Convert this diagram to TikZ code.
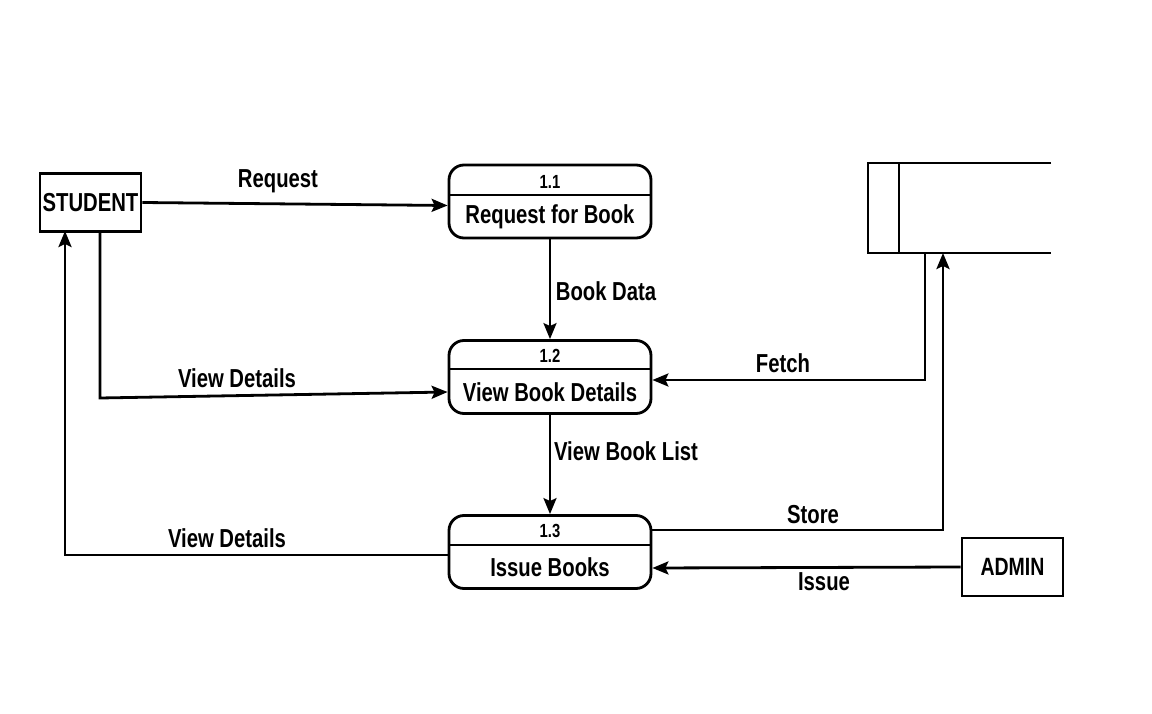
\documentclass[tikz,border=0pt]{standalone}
\usepackage{fontspec}
\setmainfont{Liberation Sans}[FakeStretch=0.78]
\usetikzlibrary{arrows.meta,calc}
\begin{document}
\begin{tikzpicture}[x=1pt,y=-1pt,
  ent/.style={draw,line width=2.8pt,minimum width=101pt,minimum height=58pt,inner sep=0pt},
  proc/.style={draw,line width=2.8pt,rounded corners=15pt,minimum width=202pt,minimum height=73pt,inner sep=0pt},
  num/.style={font=\fontsize{19}{19}\selectfont\bfseries,inner sep=0pt},
  pname/.style={font=\fontsize{26}{26}\selectfont\bfseries,inner sep=0pt},
  lbl/.style={font=\fontsize{26}{26}\selectfont\bfseries,inner sep=0pt},
  flow/.style={line width=2.8pt,-{Stealth[length=16pt,width=13pt,inset=3pt]}},
  plain/.style={line width=2.8pt}
]
\useasboundingbox (0,0) rectangle (1152,714);
% entities
\node[ent,font=\fontsize{26}{26}\selectfont\bfseries] (stu) at (90.5,202.5) {STUDENT};
\node[ent,font=\fontsize{25}{25}\selectfont\bfseries] (adm) at (1012.5,567) {ADMIN};
% processes
\node[proc] (p1) at (550,201.5) {};
\draw[plain] (449,195) -- (651,195);
\node[num] (p1n) at (550,182) {1.1};
\node[pname] (p1t) at (550,217) {Request for Book};
\node[proc] (p2) at (550,377) {};
\draw[plain] (449,369) -- (651,369);
\node[num] (p2n) at (550,356) {1.2};
\node[pname] (p2t) at (550,392) {View Book Details};
\node[proc] (p3) at (550,552) {};
\draw[plain] (449,545) -- (651,545);
\node[num] (p3n) at (550,531) {1.3};
\node[pname] (p3t) at (550,567) {Issue Books};
% data store
\draw[plain] (1051,163) -- (868,163) -- (868,253) -- (1051,253);
\draw[plain] (899,163) -- (899,253);
\coordinate (dsf) at (925,253);
\coordinate (dss) at (943,253);
% connectors
\coordinate (s1) at (100,231);
\coordinate (s2) at (65,231);
\draw[flow] (stu.east) -- ($(p1.west)+(0,4)$);
\draw[flow] (p1.south) -- (p2.north);
\draw[flow] (s1) -- (100,398) -- ($(p2.west)+(0,15)$);
\draw[flow] (dsf) -- (925,380) -- ($(p2.east)+(0,3)$);
\draw[flow] (p2.south) -- (p3.north);
\draw[flow] ($(p3.east)+(0,-22)$) -- (943,530) -- (dss);
\draw[flow] (adm.west) -- ($(p3.east)+(0,16)$);
\draw[flow] ($(p3.west)+(0,3)$) -- (65,555) -- (s2);
% labels
\node[lbl] at (278,181) {Request};
\node[lbl] at (606,291) {Book Data};
\node[lbl] at (237,378) {View Details};
\node[lbl] at (626,451) {View Book List};
\node[lbl] at (783,363) {Fetch};
\node[lbl] at (813,515) {Store};
\node[lbl] at (824,582) {Issue};
\node[lbl] at (227,538) {View Details};
\end{tikzpicture}
\end{document}
